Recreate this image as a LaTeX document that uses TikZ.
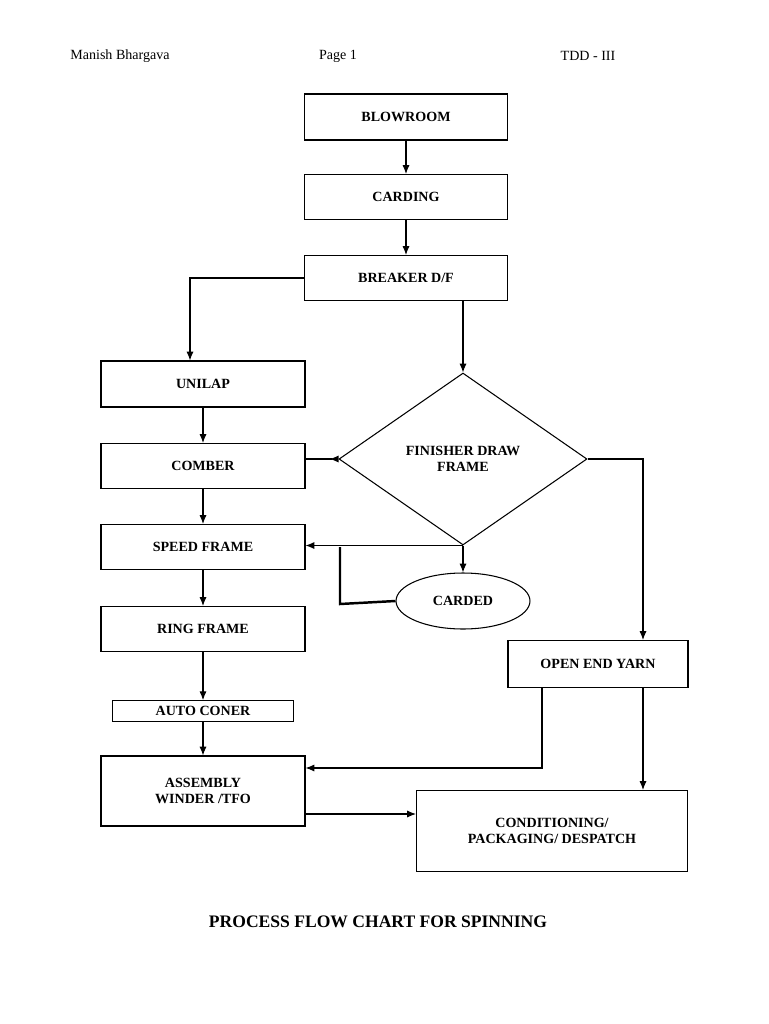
\documentclass[tikz,border=0pt]{standalone}
\usepackage{fontspec}
\setmainfont{Liberation Serif}
\usetikzlibrary{shapes.geometric,arrows.meta}
\tikzset{
  box/.style={draw, line width=0.6pt, font=\fontsize{8}{9}\selectfont\bfseries, align=center, inner sep=0pt},
  flow/.style={line width=0.6pt, -{Latex[length=5pt,width=4pt]}},
}
\begin{document}
\begin{tikzpicture}[x=0.02cm,y=-0.02cm]
\useasboundingbox (0,0) rectangle (768,1024);

% header
\node[font=\fontsize{8}{9}\selectfont] (hname) at (120,56) {Manish Bhargava};
\node[font=\fontsize{8}{9}\selectfont] (hpage) at (338,56) {Page 1};
\node[font=\fontsize{8}{9}\selectfont] (htdd) at (588,56) {TDD - III};

% boxes
\node[box, minimum width=4.06cm, minimum height=0.92cm] (blow) at (406,117) {BLOWROOM};
\node[box, minimum width=4.06cm, minimum height=0.9cm] (card) at (406,197) {CARDING};
\node[box, minimum width=4.06cm, minimum height=0.9cm] (brk) at (406,278) {BREAKER D/F};
\node[box, minimum width=4.08cm, minimum height=0.92cm] (unilap) at (203,384) {UNILAP};
\node[box, minimum width=4.08cm, minimum height=0.9cm] (comber) at (203,466) {COMBER};
\node[box, minimum width=4.08cm, minimum height=0.9cm] (speed) at (203,547) {SPEED FRAME};
\node[box, minimum width=4.08cm, minimum height=0.9cm] (ring) at (203,629) {RING FRAME};
\node[box, line width=0.4pt, minimum width=3.62cm, minimum height=0.42cm] (coner) at (203,711) {AUTO CONER};
\node[box, minimum width=4.08cm, minimum height=1.4cm] (asm) at (203,791) {ASSEMBLY\\WINDER /TFO};
\node[box, diamond, aspect=1.44, minimum width=4.96cm, minimum height=3.44cm] (fdf) at (463,459) {FINISHER DRAW\\FRAME};
\node[box, ellipse, minimum width=2.68cm, minimum height=1.12cm] (carded) at (463,601) {CARDED};
\node[box, minimum width=3.6cm, minimum height=0.94cm] (oe) at (598,664) {OPEN END YARN};
\node[box, minimum width=5.42cm, minimum height=1.62cm] (cond) at (552,831) {CONDITIONING/\\PACKAGING/ DESPATCH};

\node[font=\fontsize{10}{12}\selectfont\bfseries] (title) at (378,922) {PROCESS FLOW CHART FOR SPINNING};

% connectors
\coordinate (b1) at (190,278);
\coordinate (d1) at (643,459);
\coordinate (c1) at (340,604);
\coordinate (c2) at (340,547);
\coordinate (o1) at (542,768);
\draw[flow] (blow) -- (card);
\draw[flow] (card) -- (brk);
\draw[flow] (brk.west) -- (b1) -- (b1 |- unilap.north);
\draw[flow] (brk.south -| fdf.north) -- (fdf.north);
\draw[flow] (unilap) -- (comber);
\draw[flow] (comber) -- (speed);
\draw[flow] (speed) -- (ring);
\draw[flow] (ring) -- (coner);
\draw[flow] (coner) -- (asm);
\draw[line width=0.6pt, {Latex[length=5pt,width=4pt,reversed]}-] (fdf.west) -- (fdf.west -| comber.east);
\draw[flow] (fdf.south) -- (fdf.south -| speed.east);
\draw[flow] (fdf.south) -- (carded.north);
\draw[line width=1.4pt] (carded.west) -- (c1) -- (c2);
\draw[flow] (fdf.east) -- (d1) -- (d1 |- oe.north);
\draw[flow] (oe.south -| o1) -- (o1) -- (o1 -| asm.east);
\draw[flow] (oe.south -| d1) -- (d1 |- cond.north);
\draw[flow] (asm.east |- 0,814) -- (cond.west |- 0,814);
\end{tikzpicture}
\end{document}
